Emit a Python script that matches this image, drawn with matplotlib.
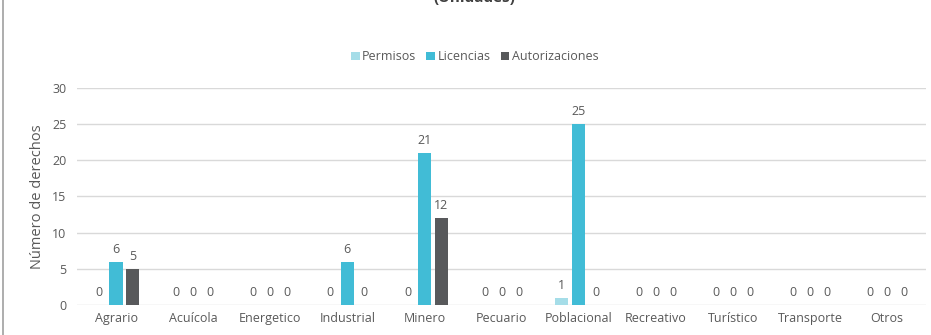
import matplotlib
matplotlib.use("Agg")
import matplotlib.pyplot as plt
import numpy as np
from matplotlib.lines import Line2D

categories = ["Agrario", "Acuícola", "Energetico", "Industrial", "Minero", "Pecuario",
              "Poblacional", "Recreativo", "Turístico", "Transporte", "Otros"]
permisos = [0, 0, 0, 0, 0, 0, 1, 0, 0, 0, 0]
licencias = [6, 0, 0, 6, 21, 0, 25, 0, 0, 0, 0]
autorizaciones = [5, 0, 0, 0, 12, 0, 0, 0, 0, 0, 0]
series_names = ["Permisos", "Licencias", "Autorizaciones"]
colors = ["#a5dde8", "#41bcd6", "#58595b"]
yticks = [0, 5, 10, 15, 20, 25, 30]

plt.rcParams['font.family'] = ['Open Sans', 'DejaVu Sans']
txt = "#595959"

fig = plt.figure(figsize=(9.31, 3.35), dpi=100)
ax = fig.add_axes([0.0832, 0.0896, 0.911, 0.648])

x = np.arange(len(categories))
w = 0.169
step = 0.22
for i, (vals, c, name) in enumerate(zip([permisos, licencias, autorizaciones], colors, series_names)):
    pos = x + (i - 1) * step
    ax.bar(pos, vals, width=w, color=c, label=name, zorder=3)
    for p, v in zip(pos, vals):
        ax.text(p, v + 0.8, str(v), ha='center', va='bottom', fontsize=9, color=txt, zorder=4)

ax.set_xlim(-0.5, len(categories) - 0.5)
ax.set_ylim(0, 30)
ax.set_yticks(yticks)
ax.set_xticks(x)
ax.set_xticklabels(categories)
ax.tick_params(axis='both', length=0, labelsize=9, colors=txt)
ax.tick_params(axis='y', pad=8)
ax.tick_params(axis='x', pad=5)
ax.grid(axis='y', color='#d9d9d9', linewidth=1, zorder=0)
for s in ax.spines.values():
    s.set_visible(False)
ax.set_ylabel("Número de derechos", fontsize=10.5, color=txt, labelpad=5)

fig.legend(loc='center', bbox_to_anchor=(0.51, 0.83), ncol=3, frameon=False,
           fontsize=9, handlelength=0.7, handleheight=0.7, handletextpad=0.2,
           columnspacing=0.8, labelcolor=txt)

fig.text(0.51, 1.005, "(Unidades)", ha='center', va='center', fontsize=11,
         fontweight='bold', color='#404040')
fig.add_artist(Line2D([0.0035, 0.0035], [0, 1], transform=fig.transFigure,
                      color='#a0a0a0', linewidth=1.2))

fig.savefig("out.png", dpi=100)
